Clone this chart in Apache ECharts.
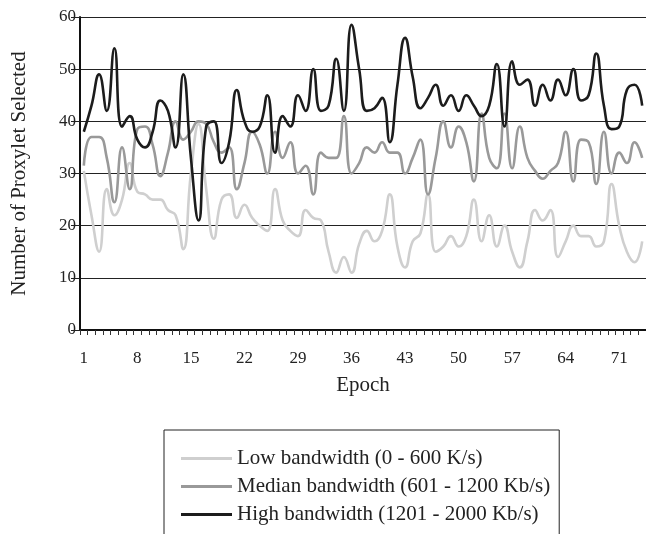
<!DOCTYPE html>
<html>
<head>
<meta charset="utf-8">
<script src="https://cdn.jsdelivr.net/npm/echarts@6/dist/echarts.min.js"></script>
<style>
  html, body { margin: 0; padding: 0; background: #fff; }
  #chart { width: 646px; height: 534px; }
</style>
</head>
<body>
<div id="chart"></div>
<script>
// epochs on the x axis
var epochs = [];
for (var i = 1; i <= 74; i++) { epochs.push(String(i)); }

// series values
var lowBand = [30.5, 22, 15, 27, 22, 25, 32, 26.5, 26, 25,
    25, 23, 22, 15.5, 30, 39.5, 27, 17.5, 25, 26,
    21.5, 24, 21.5, 20, 19, 27, 21, 19, 18, 23,
    21.5, 21, 15, 11, 14, 11, 16.5, 19, 17, 19,
    26, 16, 12, 17, 18.5, 26, 15, 16, 18, 16,
    18, 25, 17, 22, 16, 20, 15, 12, 17, 23,
    21, 23, 14, 17, 20, 18, 18, 16, 17, 28,
    20, 15, 13, 17];
var medianBand = [31.5, 37, 37, 33, 24.5, 35, 27, 38.5, 39, 35.5,
    29.5, 34, 40, 36.5, 38, 40, 39.5, 36, 34, 35,
    27, 32, 38, 35.5, 30, 38, 33, 36, 30, 31.5,
    26, 34, 33, 33, 41, 30, 32, 35, 34, 36,
    34, 34, 30, 33, 36.5, 26, 33, 40, 35, 39,
    36, 28.5, 41.5, 33, 31, 41.5, 31, 39, 33, 30.5,
    29, 30.5, 32, 38, 28.5, 36.5, 36, 28, 38, 30,
    34, 32, 36, 33];
var highBand = [38, 43, 49, 42, 54, 39, 41, 36.5, 35, 38,
    44, 42, 35, 49, 33, 21, 39, 40, 32, 36,
    46, 40, 38, 39, 45, 34, 41, 39, 45, 42,
    50, 42, 43, 52, 42, 58.5, 50, 42, 42.5, 44.5,
    36, 47, 56, 48.5, 42.5, 44.5, 47, 43, 45, 42,
    45, 43, 41, 43, 51, 39, 51.5, 47, 48, 43,
    47, 44, 48, 45, 50, 44, 45, 53, 43, 38.5,
    39, 46, 47, 43];

var seriesNames = ['Low bandwidth (0 - 600 K/s)',
    'Median bandwidth (601 - 1200 Kb/s)',
    'High bandwidth (1201 - 2000 Kb/s)'];
var seriesColors = ['#cfcfcf', '#999999', '#1c1c1c'];

var font = 'Liberation Serif';
var chart = echarts.init(document.getElementById('chart'));

function makeLine(idx, values) {
    return {
        name: seriesNames[idx],
        type: 'line',
        data: values,
        smooth: true,
        showSymbol: false,
        lineStyle: { color: seriesColors[idx], width: 2.6 },
        itemStyle: { color: seriesColors[idx] }
    };
}

var option = {
    animation: false,
    grid: { left: 80, right: -4, top: 17, bottom: 204 },
    xAxis: {
        type: 'category',
        data: epochs,
        boundaryGap: true,
        name: 'Epoch',
        nameLocation: 'middle',
        nameGap: 45,
        nameTextStyle: { fontFamily: font, fontSize: 21, color: '#222' },
        axisLine: { lineStyle: { color: '#111', width: 2 } },
        axisTick: { show: true, interval: 0, length: 5, lineStyle: { color: '#333', width: 1 } },
        axisLabel: { interval: 6, margin: 20, fontFamily: font, fontSize: 17, color: '#222' },
        splitLine: { show: false }
    },
    yAxis: {
        type: 'value',
        min: 0,
        max: 60,
        interval: 10,
        name: 'Number of Proxylet Selected',
        nameLocation: 'middle',
        nameGap: 50,
        nameRotate: 90,
        nameTextStyle: { fontFamily: font, fontSize: 21, color: '#222' },
        axisLine: { show: true, lineStyle: { color: '#111', width: 2 } },
        axisTick: { show: true, length: 9, lineStyle: { color: '#222', width: 1 } },
        axisLabel: { margin: 4, fontFamily: font, fontSize: 17, color: '#222' },
        splitLine: { show: true, lineStyle: { color: '#222', width: 1 } }
    },
    legend: {
        orient: 'vertical',
        left: 164,
        top: 430,
        height: 140,
        icon: 'rect',
        itemWidth: 51,
        itemHeight: 3,
        itemGap: 7,
        padding: [18, 9, 17, 17],
        borderColor: '#222',
        borderWidth: 1,
        textStyle: { fontFamily: font, fontSize: 21, color: '#222' },
        data: seriesNames
    },
    series: [
        makeLine(0, lowBand),
        makeLine(1, medianBand),
        makeLine(2, highBand)
    ]
};
chart.setOption(option);
</script>
</body>
</html>
